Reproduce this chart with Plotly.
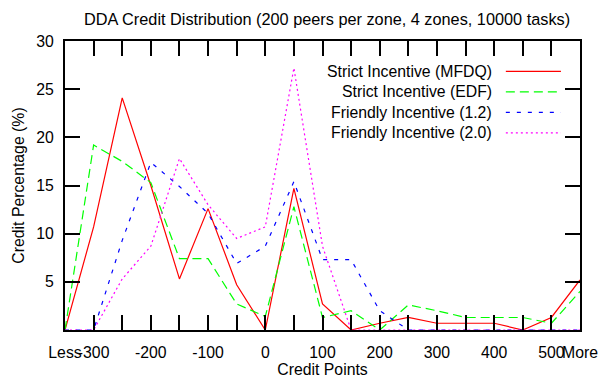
import plotly.graph_objects as go

categories = ["Less", "-300", "-250", "-200", "-150", "-100", "-50", "0", "50", "100",
              "150", "200", "250", "300", "350", "400", "450", "500", "More"]
tick_labels = ["Less", "-300", "", "-200", "", "-100", "", "0", "", "100",
               "", "200", "", "300", "", "400", "", "500", "More"]

strict_mfdq = [0, 10.7, 24.1, 15.0, 5.3, 12.6, 4.7, 0, 14.7, 2.7, 0, 0.7, 1.3, 0.7, 0.7, 0.7, 0, 1.3, 5.2]
strict_edf = [0, 19.2, 17.5, 15.3, 7.4, 7.4, 2.7, 1.4, 12.8, 1.3, 2.0, 0, 2.6, 2.0, 1.3, 1.3, 1.3, 0.7, 4.0]
friendly_12 = [0, 0, 9.3, 17.4, 14.9, 12.1, 6.9, 8.7, 15.4, 7.3, 7.3, 2.0, 0, 0, 0, 0, 0, 0, 0]
friendly_20 = [0, 0, 5.3, 8.7, 17.8, 13.0, 9.5, 10.7, 27.2, 8.7, 0, 0, 0, 0, 0, 0, 0, 0, 0]

series = [
    ("Strict Incentive (MFDQ)", strict_mfdq, "#ff0000", "solid"),
    ("Strict Incentive (EDF)", strict_edf, "#00ff00", "9px,5px"),
    ("Friendly Incentive (1.2)", friendly_12, "#0000ff", "4px,7px"),
    ("Friendly Incentive (2.0)", friendly_20, "#ff00ff", "2px,3px"),
]

FONT = "Liberation Sans, Arial, Helvetica, sans-serif"
FS = 15.8

fig = go.Figure()
for name, vals, color, dash in series:
    fig.add_trace(go.Scatter(x=categories, y=vals, mode="lines", name=name,
                             line=dict(color=color, width=1.2, dash=dash),
                             showlegend=False))

# gnuplot-style key: right-aligned text with sample line on its right
key_y = [0.895, 0.824, 0.753, 0.682]
for (name, vals, color, dash), ky in zip(series, key_y):
    fig.add_annotation(xref="paper", yref="paper", x=0.833, y=ky, text=name,
                       showarrow=False, xanchor="right", yanchor="middle",
                       font=dict(family=FONT, size=FS, color="black"))
    fig.add_shape(type="line", xref="paper", yref="paper", x0=0.856, x1=0.963,
                  y0=ky, y1=ky, line=dict(color=color, width=1.2, dash=dash))

fig.update_layout(
    width=598, height=379,
    margin=dict(l=65, r=18, t=41, b=49),
    paper_bgcolor="white", plot_bgcolor="white",
    font=dict(family=FONT, size=FS, color="black"),
    title=dict(text="DDA Credit Distribution (200 peers per zone, 4 zones, 10000 tasks)",
               x=0.547, xanchor="center", y=1 - 19 / 379, yanchor="middle",
               xref="container", yref="container",
               font=dict(family=FONT, size=16.3, color="black")),
)
fig.update_xaxes(
    type="category", categoryorder="array", categoryarray=categories,
    range=[0, len(categories) - 1], automargin=False,
    tickmode="array", tickvals=categories, ticktext=tick_labels, tickangle=0,
    ticks="inside", ticklen=15, tickwidth=2, tickcolor="black", ticklabelstandoff=7,
    showline=True, linewidth=2, linecolor="black", mirror="allticks",
    showgrid=False, zeroline=False,
    title=dict(text="Credit Points", standoff=4, font=dict(family=FONT, size=FS)),
)
fig.update_yaxes(
    range=[0, 30], automargin=False,
    tickmode="array", tickvals=[0, 5, 10, 15, 20, 25, 30],
    ticktext=["", "5", "10", "15", "20", "25", "30"],
    ticks="inside", ticklen=15, tickwidth=2, tickcolor="black", ticklabelstandoff=6,
    showline=True, linewidth=2, linecolor="black", mirror="allticks",
    showgrid=False, zeroline=False,
    title=dict(text="Credit Percentage (%)", standoff=8, font=dict(family=FONT, size=FS)),
)

fig.write_html("out.html", config={"displayModeBar": False},
               post_script="document.body.style.margin='0';document.body.style.overflow='hidden';")
